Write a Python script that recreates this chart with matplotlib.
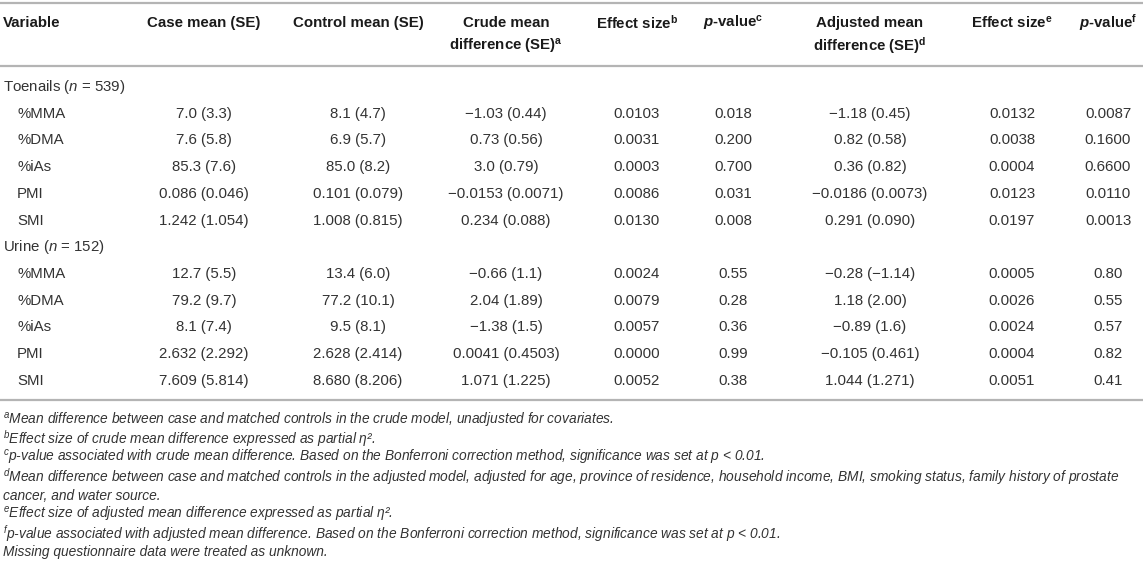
import matplotlib
matplotlib.use("Agg")
from matplotlib import pyplot as plt

plt.rcParams["font.family"] = ["Liberation Sans", "DejaVu Sans"]
plt.rcParams["mathtext.fontset"] = "custom"
plt.rcParams["mathtext.rm"] = "Liberation Sans"
plt.rcParams["mathtext.it"] = "Liberation Sans:italic"
plt.rcParams["mathtext.bf"] = "Liberation Sans:bold"
plt.rcParams["mathtext.bfit"] = "Liberation Sans:italic:bold"

# column headers (line 1, line 2)
headers = [
    ("Variable", ""),
    ("Case mean (SE)", ""),
    ("Control mean (SE)", ""),
    ("Crude mean", "difference (SE)$^{\\mathbf{a}}$"),
    ("Effect size$^{\\mathbf{b}}$", ""),
    ("$\\mathbfit{p}$-value$^{\\mathbf{c}}$", ""),
    ("Adjusted mean", "difference (SE)$^{\\mathbf{d}}$"),
    ("Effect size$^{\\mathbf{e}}$", ""),
    ("$\\mathbfit{p}$-value$^{\\mathbf{f}}$", ""),
]

groups = ["Toenails ($n$ = 539)", "Urine ($n$ = 152)"]
variables = ["%MMA", "%DMA", "%iAs", "PMI", "SMI"]

# toenails
case_toe = ["7.0 (3.3)", "7.6 (5.8)", "85.3 (7.6)", "0.086 (0.046)", "1.242 (1.054)"]
control_toe = ["8.1 (4.7)", "6.9 (5.7)", "85.0 (8.2)", "0.101 (0.079)", "1.008 (0.815)"]
crude_toe = ["\u22121.03 (0.44)", "0.73 (0.56)", "3.0 (0.79)", "\u22120.0153 (0.0071)", "0.234 (0.088)"]
eff_crude_toe = ["0.0103", "0.0031", "0.0003", "0.0086", "0.0130"]
p_crude_toe = ["0.018", "0.200", "0.700", "0.031", "0.008"]
adj_toe = ["\u22121.18 (0.45)", "0.82 (0.58)", "0.36 (0.82)", "\u22120.0186 (0.0073)", "0.291 (0.090)"]
eff_adj_toe = ["0.0132", "0.0038", "0.0004", "0.0123", "0.0197"]
p_adj_toe = ["0.0087", "0.1600", "0.6600", "0.0110", "0.0013"]

# urine
case_uri = ["12.7 (5.5)", "79.2 (9.7)", "8.1 (7.4)", "2.632 (2.292)", "7.609 (5.814)"]
control_uri = ["13.4 (6.0)", "77.2 (10.1)", "9.5 (8.1)", "2.628 (2.414)", "8.680 (8.206)"]
crude_uri = ["\u22120.66 (1.1)", "2.04 (1.89)", "\u22121.38 (1.5)", "0.0041 (0.4503)", "1.071 (1.225)"]
eff_crude_uri = ["0.0024", "0.0079", "0.0057", "0.0000", "0.0052"]
p_crude_uri = ["0.55", "0.28", "0.36", "0.99", "0.38"]
adj_uri = ["\u22120.28 (\u22121.14)", "1.18 (2.00)", "\u22120.89 (1.6)", "\u22120.105 (0.461)", "1.044 (1.271)"]
eff_adj_uri = ["0.0005", "0.0026", "0.0024", "0.0004", "0.0051"]
p_adj_uri = ["0.80", "0.55", "0.57", "0.82", "0.41"]

footnotes = [
    "$^{a}$Mean difference between case and matched controls in the crude model, unadjusted for covariates.",
    "$^{b}$Effect size of crude mean difference expressed as partial \u03b7\u00b2.",
    "$^{c}$p-value associated with crude mean difference. Based on the Bonferroni correction method, significance was set at p < 0.01.",
    "$^{d}$Mean difference between case and matched controls in the adjusted model, adjusted for age, province of residence, household income, BMI, smoking status, family history of prostate",
    "cancer, and water source.",
    "$^{e}$Effect size of adjusted mean difference expressed as partial \u03b7\u00b2.",
    "$^{f}$p-value associated with adjusted mean difference. Based on the Bonferroni correction method, significance was set at p < 0.01.",
    "Missing questionnaire data were treated as unknown.",
]

W, H = 1143, 569
fig = plt.figure(figsize=(W / 100, H / 100), dpi=100)
ax = fig.add_axes([0, 0, 1, 1])
ax.set_xlim(0, W)
ax.set_ylim(H, 0)
ax.axis("off")

col_x = [3, 204, 358, 506, 637, 733, 870, 1012, 1108]
fs = 10.8
txt = "#333333"
rule = "#b4b4b4"

# rules
for y in [3, 66, 400]:
    ax.plot([0, W], [y, y], color=rule, lw=1.6, solid_capstyle="butt")

# header
for i, (l1, l2) in enumerate(headers):
    ha = "left" if i == 0 else "center"
    ax.text(col_x[i], 23, l1, ha=ha, va="center", fontsize=fs, fontweight="bold", color="#1a1a1a")
    if l2:
        ax.text(col_x[i], 46, l2, ha=ha, va="center", fontsize=fs, fontweight="bold", color="#1a1a1a")

blocks = [
    [case_toe, control_toe, crude_toe, eff_crude_toe, p_crude_toe, adj_toe, eff_adj_toe, p_adj_toe],
    [case_uri, control_uri, crude_uri, eff_crude_uri, p_crude_uri, adj_uri, eff_adj_uri, p_adj_uri],
]

y = 87
step = 26.7
for g, cols in zip(groups, blocks):
    ax.text(3, y, g, ha="left", va="center", fontsize=fs, color=txt)
    y += step
    for r, name in enumerate(variables):
        ax.text(17, y, name, ha="left", va="center", fontsize=fs, color=txt)
        for c, vals in enumerate(cols):
            ax.text(col_x[c + 1], y, vals[r], ha="center", va="center", fontsize=fs, color=txt)
        y += step

fy = 420
for line in footnotes:
    ax.text(3, fy, line, ha="left", va="center", fontsize=9.9, style="italic", color=txt)
    fy += 18.9

fig.savefig("out.png", dpi=100)
